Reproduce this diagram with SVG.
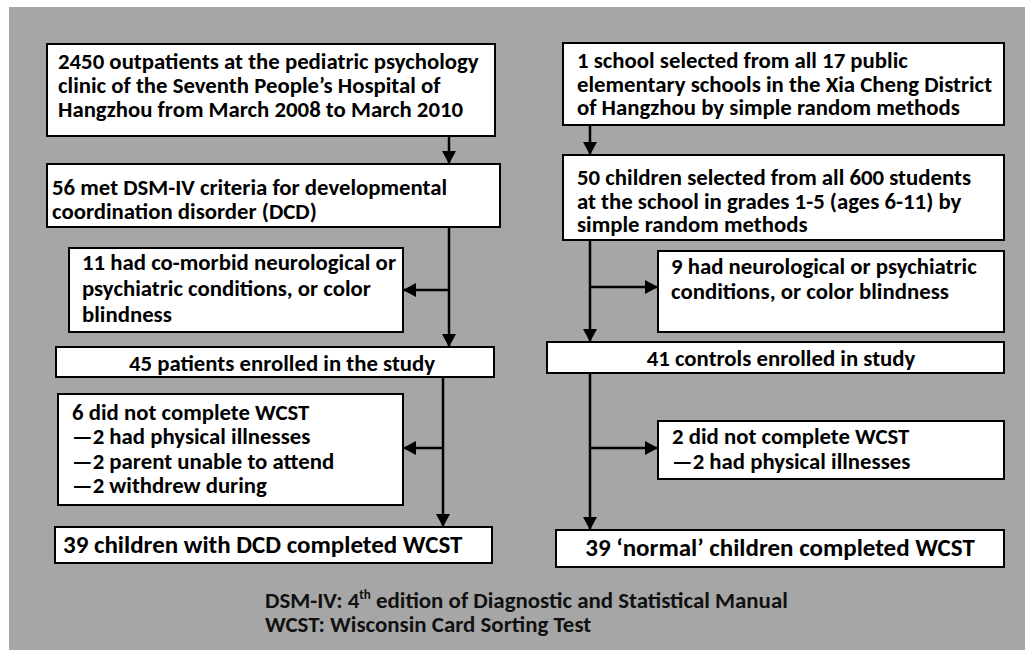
<svg xmlns="http://www.w3.org/2000/svg" width="1025" height="650" viewBox="0 0 1025 650">
<defs>
<marker id="ah" markerUnits="userSpaceOnUse" markerWidth="14" markerHeight="14" viewBox="0 0 14 14" refX="13" refY="7" orient="auto">
<path d="M0,0 L13,7 L0,14 Z" fill="#000"/>
</marker>
<style>
.box{fill:#fff;stroke:#000;stroke-width:2}
.t{font-family:Carlito,Calibri,"Open Sans","Liberation Sans",sans-serif;font-weight:bold;font-size:22.8px;fill:#000}
.big{font-size:25px}
.c{text-anchor:middle}
.fn{font-family:Carlito,Calibri,"Open Sans","Liberation Sans",sans-serif;font-weight:bold;font-size:22.9px;fill:#111}
.sup{font-size:13px;baseline-shift:9px}
.ln{fill:none;stroke:#000;stroke-width:2.5}
</style>
</defs>
<rect x="9" y="7" width="1016" height="643" fill="#a6a6a6"/>
<g id="connectors">
<line class="ln" x1="449" y1="136" x2="449" y2="164" marker-end="url(#ah)"/>
<line class="ln" x1="449" y1="227" x2="449" y2="347" marker-end="url(#ah)"/>
<line class="ln" x1="449" y1="290" x2="403" y2="290" marker-end="url(#ah)"/>
<line class="ln" x1="443" y1="377" x2="443" y2="527" marker-end="url(#ah)"/>
<line class="ln" x1="443" y1="448" x2="403" y2="448" marker-end="url(#ah)"/>
<line class="ln" x1="590" y1="125" x2="590" y2="155" marker-end="url(#ah)"/>
<line class="ln" x1="590" y1="240" x2="590" y2="342" marker-end="url(#ah)"/>
<line class="ln" x1="590" y1="287" x2="658" y2="287" marker-end="url(#ah)"/>
<line class="ln" x1="590" y1="373" x2="590" y2="530" marker-end="url(#ah)"/>
<line class="ln" x1="590" y1="448" x2="658" y2="448" marker-end="url(#ah)"/>
</g>
<g id="n1">
<rect class="box" x="47" y="44" width="448" height="92"/>
<text class="t" x="58" y="69">2450 outpatients at the pediatric psychology<tspan x="58" dy="24">clinic of the Seventh People’s Hospital of</tspan><tspan x="58" dy="24">Hangzhou from March 2008 to March 2010</tspan></text>
</g>
<g id="n2">
<rect class="box" x="47" y="164" width="453" height="63"/>
<text class="t" x="52" y="195">56 met DSM-IV criteria for developmental<tspan x="52" dy="24">coordination disorder (DCD)</tspan></text>
</g>
<g id="n3">
<rect class="box" x="69" y="248" width="334" height="84"/>
<text class="t" x="82" y="270">11 had co-morbid neurological or<tspan x="82" dy="26">psychiatric conditions, or color</tspan><tspan x="82" dy="26">blindness</tspan></text>
</g>
<g id="n4">
<rect class="box" x="56" y="347" width="438" height="30"/>
<text class="t c" x="282" y="371">45 patients enrolled in the study</text>
</g>
<g id="n5">
<rect class="box" x="58" y="394" width="345" height="111"/>
<text class="t" x="72" y="420">6 did not complete WCST<tspan x="72" dy="24">—2 had physical illnesses</tspan><tspan x="72" dy="25">—2 parent unable to attend</tspan><tspan x="72" dy="24">—2 withdrew during</tspan></text>
</g>
<g id="n6">
<rect class="box" x="55" y="527" width="437" height="36"/>
<text class="t big" x="63" y="553">39 children with DCD completed WCST</text>
</g>
<g id="r1">
<rect class="box" x="563" y="43" width="441" height="82"/>
<text class="t" x="577" y="68">1 school selected from all 17 public<tspan x="577" dy="23.5">elementary schools in the Xia Cheng District</tspan><tspan x="577" dy="23.5">of Hangzhou by simple random methods</tspan></text>
</g>
<g id="r2">
<rect class="box" x="563" y="155" width="441" height="85"/>
<text class="t" x="577" y="185">50 children selected from all 600 students<tspan x="577" dy="23.5">at the school in grades 1-5 (ages 6-11) by</tspan><tspan x="577" dy="23.5">simple random methods</tspan></text>
</g>
<g id="r3">
<rect class="box" x="658" y="251" width="346" height="81"/>
<text class="t" x="671" y="274">9 had neurological or psychiatric<tspan x="671" dy="25">conditions, or color blindness</tspan></text>
</g>
<g id="r4">
<rect class="box" x="547" y="342" width="457" height="31"/>
<text class="t c" x="781" y="366">41 controls enrolled in study</text>
</g>
<g id="r5">
<rect class="box" x="658" y="421" width="346" height="58"/>
<text class="t" x="672" y="444">2 did not complete WCST<tspan x="672" dy="25">—2 had physical illnesses</tspan></text>
</g>
<g id="r6">
<rect class="box" x="556" y="530" width="448" height="37"/>
<text class="t big c" x="780" y="556">39 ‘normal’ children completed WCST</text>
</g>
<g id="footnote">
<text class="fn" x="265" y="608">DSM-IV: 4<tspan class="sup">th</tspan> edition of Diagnostic and Statistical Manual<tspan x="265" dy="24">WCST: Wisconsin Card Sorting Test</tspan></text>
</g>
</svg>
